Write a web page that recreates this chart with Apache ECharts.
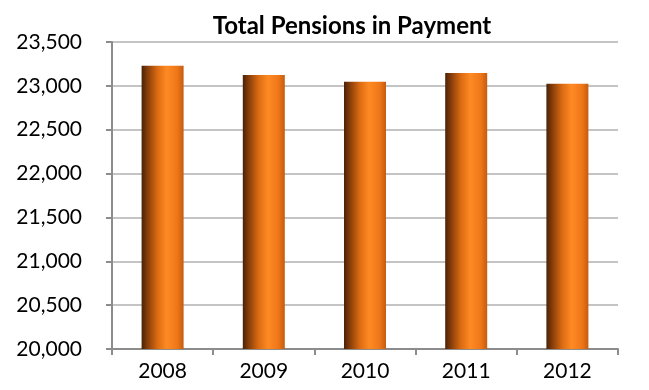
<!DOCTYPE html>
<html>
<head>
<meta charset="utf-8">
<script src="https://cdn.jsdelivr.net/npm/echarts@6/dist/echarts.min.js"></script>
<style>
  html, body { margin: 0; padding: 0; background: #ffffff; }
  #chart { width: 649px; height: 390px; }
</style>
</head>
<body>
<div id="chart"></div>
<script>
// Total pensions in payment per year
const years = ['2008', '2009', '2010', '2011', '2012'];
const pensions = [23228, 23124, 23046, 23148, 23024];
const yMin = 20000;
const yMax = 23500;
const yStep = 500;

const FONT = 'Lato';

const barFill = new echarts.graphic.LinearGradient(0, 0, 1, 0, [
  { offset: 0.00, color: '#4a2206' },
  { offset: 0.15, color: '#8a3f0a' },
  { offset: 0.38, color: '#dc6c12' },
  { offset: 0.60, color: '#ff8a24' },
  { offset: 0.85, color: '#ee7618' },
  { offset: 1.00, color: '#c45c10' }
]);

const chart = echarts.init(document.getElementById('chart'), null, { renderer: 'canvas' });
chart.setOption({
  animation: false,
  backgroundColor: '#ffffff',
  title: {
    text: 'Total Pensions in Payment',
    left: 347,
    textAlign: 'center',
    top: 9,
    textStyle: { fontFamily: FONT, fontWeight: 'bold', fontSize: 24, color: '#000000' }
  },
  grid: { left: 112, right: 31, top: 42, bottom: 41 },
  xAxis: {
    type: 'category',
    data: years,
    axisLine: { lineStyle: { color: '#8c8c8c', width: 2 } },
    axisTick: { show: true, length: 6, lineStyle: { color: '#8c8c8c', width: 2 } },
    axisLabel: { fontFamily: FONT, fontSize: 21, color: '#000000', margin: 12 }
  },
  yAxis: {
    type: 'value',
    min: yMin,
    max: yMax,
    interval: yStep,
    axisLine: { show: true, lineStyle: { color: '#8c8c8c', width: 2 } },
    axisTick: { show: true, length: 6, lineStyle: { color: '#8c8c8c', width: 2 } },
    splitLine: { show: true, lineStyle: { color: '#c4c4c4', width: 2 } },
    axisLabel: {
      fontFamily: FONT, fontSize: 21, color: '#000000', margin: 30,
      formatter: v => v.toLocaleString('en-US')
    }
  },
  series: [{
    type: 'bar',
    data: pensions,
    barWidth: 42,
    itemStyle: { color: barFill }
  }]
});
</script>
</body>
</html>
